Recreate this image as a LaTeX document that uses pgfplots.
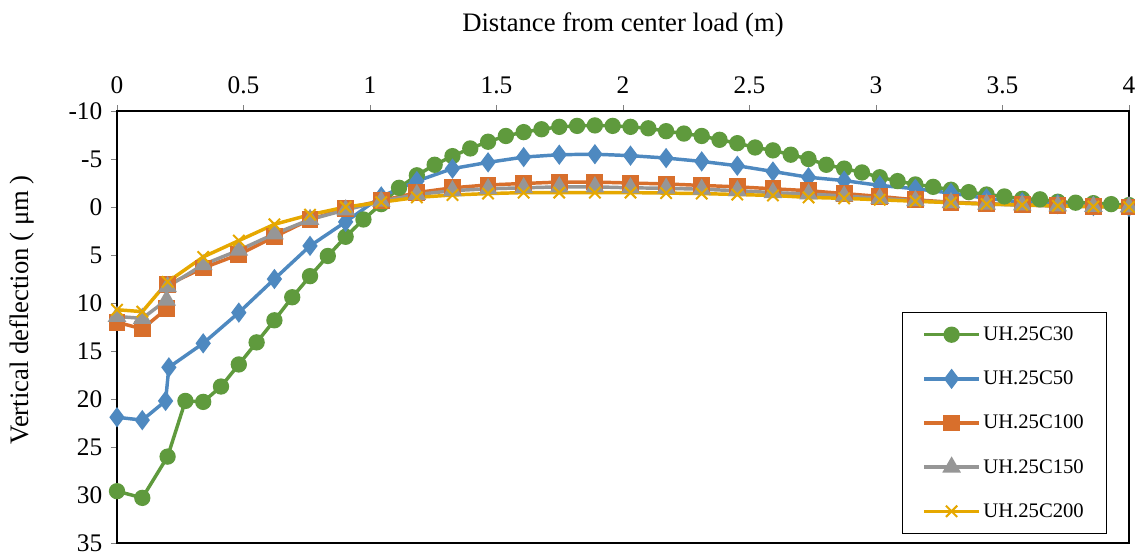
\documentclass[border=0pt]{standalone}
\usepackage{fontspec}
\setmainfont{Liberation Serif}
\usepackage{pgfplots}
\pgfplotsset{compat=1.18}
\definecolor{cgreen}{HTML}{5F9A3D}
\definecolor{cblue}{HTML}{4E89C0}
\definecolor{corange}{HTML}{D86F2C}
\definecolor{cgrey}{HTML}{969696}
\definecolor{cyellow}{HTML}{E6A800}
\begin{document}
\begin{tikzpicture}
\useasboundingbox (-87.75pt,-10.5pt) rectangle (763.5pt,407.25pt);
\begin{axis}[
  at={(0,0)}, anchor=south west,
  scale only axis, width=759pt, height=324pt,
  xmin=0, xmax=4, ymin=-10, ymax=35, y dir=reverse,
  xtick={0,0.5,...,4}, ytick={-10,-5,...,35},
  xtick pos=right, xticklabel pos=right,
  ytick pos=left, yticklabel pos=left,
  tick align=outside, major tick length=4.5pt,
  tick style={gray, line width=0.6pt},
  axis line style={black, line width=2pt},
  /pgf/number format/assume math mode=true,
  ticklabel style={font=\fontsize{19}{22}\selectfont},
  xticklabel style={yshift=5pt},
  yticklabel style={xshift=-3pt},
  label style={font=\fontsize{20}{24}\selectfont},
  xlabel={Distance from center load (m)},
  xlabel style={at={(axis description cs:0.5,1.2)}, anchor=center},
  ylabel={Vertical deflection ( μm )},
  ylabel style={at={(axis description cs:-0.094,0.54)}, anchor=center},
  legend cell align=left,
  legend style={at={(0.7757,0.5356)}, anchor=north west, draw=black, line width=0.8pt,
    font=\fontsize{15.5}{18}\selectfont, row sep=17.3pt, inner xsep=15pt, inner ysep=9pt},
  legend image code/.code={
    \draw[mark repeat=2,mark phase=2] plot coordinates {(0pt,0pt) (20.5pt,0pt) (41pt,0pt)};
  },
]
\addplot[cgreen, line width=2.6pt, mark=*, mark size=4.8pt, mark options={solid}] coordinates {
(0,29.6) (0.1,30.3) (0.2000,26.0) (0.2704,20.2) (0.3407,20.3) (0.4111,18.7) (0.4815,16.4)
(0.5519,14.1) (0.6222,11.8) (0.6926,9.4) (0.7630,7.2) (0.8333,5.1) (0.9037,3.1) (0.9741,1.3)
(1.0444,-0.3) (1.1148,-2.0) (1.1852,-3.3) (1.2556,-4.4) (1.3259,-5.3) (1.3963,-6.1) (1.4667,-6.8)
(1.5370,-7.4) (1.6074,-7.8) (1.6778,-8.1) (1.7481,-8.35) (1.8185,-8.45) (1.8889,-8.5) (1.9593,-8.45)
(2.0296,-8.35) (2.1000,-8.2) (2.1704,-7.9) (2.2407,-7.65) (2.3111,-7.4) (2.3815,-7.0) (2.4519,-6.65)
(2.5222,-6.2) (2.5926,-5.9) (2.6630,-5.45) (2.7333,-5.0) (2.8037,-4.4) (2.8741,-4.0) (2.9444,-3.6)
(3.0148,-3.1) (3.0852,-2.7) (3.1556,-2.35) (3.2259,-2.1) (3.2963,-1.8) (3.3667,-1.55) (3.4370,-1.3)
(3.5074,-1.1) (3.5778,-0.85) (3.6481,-0.8) (3.7185,-0.55) (3.7889,-0.45) (3.8593,-0.4) (3.9296,-0.3) (4.0000,-0.2)
};
\addlegendentry{UH.25C30}
\addplot[cblue, line width=2.6pt, mark=diamond*, mark size=5.5pt, mark options={solid}] coordinates {
(0,21.9) (0.1,22.2) (0.192,20.2) (0.205,16.7) (0.3407,14.2) (0.4815,11.0) (0.6222,7.5) (0.7630,4.05)
(0.9037,1.55) (1.0444,-1.1) (1.1852,-2.7) (1.3259,-4.0) (1.4667,-4.65) (1.6074,-5.2) (1.7481,-5.45)
(1.8889,-5.5) (2.0296,-5.35) (2.1704,-5.1) (2.3111,-4.75) (2.4519,-4.3) (2.5926,-3.7) (2.7333,-3.1)
(2.8741,-2.75) (3.0148,-2.25) (3.1556,-1.9) (3.2963,-1.45) (3.4370,-0.9) (3.5778,-0.5) (3.7185,-0.3)
(3.8593,-0.1) (4.0000,0)
};
\addlegendentry{UH.25C50}
\addplot[corange, line width=2.6pt, mark=square*, mark size=5pt, mark options={solid}] coordinates {
(0,12.0) (0.1,12.7) (0.196,10.6) (0.2000,8.1) (0.3407,6.35) (0.4815,4.95) (0.6222,3.1) (0.7630,1.3)
(0.9037,0.15) (1.0444,-0.65) (1.1852,-1.5) (1.3259,-2.0) (1.4667,-2.3) (1.6074,-2.45) (1.7481,-2.6)
(1.8889,-2.6) (2.0296,-2.5) (2.1704,-2.4) (2.3111,-2.25) (2.4519,-2.1) (2.5926,-1.9) (2.7333,-1.7)
(2.8741,-1.4) (3.0148,-1.1) (3.1556,-0.75) (3.2963,-0.5) (3.4370,-0.35) (3.5778,-0.22) (3.7185,-0.12)
(3.8593,-0.05) (4.0000,0)
};
\addlegendentry{UH.25C100}
\addplot[cgrey, line width=2.6pt, mark=triangle*, mark size=5.5pt, mark options={solid}] coordinates {
(0,11.4) (0.1,11.6) (0.196,9.7) (0.2000,8.3) (0.3407,6.0) (0.4815,4.5) (0.6222,2.8) (0.7630,1.3)
(0.9037,0.3) (1.0444,-0.6) (1.1852,-1.3) (1.3259,-1.7) (1.4667,-1.9) (1.6074,-2.0) (1.7481,-2.1)
(1.8889,-2.1) (2.0296,-2.0) (2.1704,-1.95) (2.3111,-1.85) (2.4519,-1.7) (2.5926,-1.5) (2.7333,-1.35)
(2.8741,-1.15) (3.0148,-0.9) (3.1556,-0.65) (3.2963,-0.45) (3.4370,-0.3) (3.5778,-0.2) (3.7185,-0.1)
(3.8593,-0.05) (4.0000,0)
};
\addlegendentry{UH.25C150}
\addplot[cyellow, line width=2.6pt, mark=x, mark size=6pt, mark options={solid, line width=1.5pt}] coordinates {
(0,10.7) (0.1,10.9) (0.2000,7.8) (0.3407,5.2) (0.4815,3.5) (0.6222,1.8) (0.7630,0.8)
(0.9037,0.0) (1.0444,-0.5) (1.1852,-1.0) (1.3259,-1.25) (1.4667,-1.4) (1.6074,-1.5) (1.7481,-1.5)
(1.8889,-1.5) (2.0296,-1.5) (2.1704,-1.45) (2.3111,-1.4) (2.4519,-1.3) (2.5926,-1.2) (2.7333,-1.0)
(2.8741,-0.9) (3.0148,-0.75) (3.1556,-0.6) (3.2963,-0.45) (3.4370,-0.3) (3.5778,-0.22) (3.7185,-0.12)
(3.8593,-0.05) (4.0000,0)
};
\addlegendentry{UH.25C200}
\end{axis}
\end{tikzpicture}
\end{document}
